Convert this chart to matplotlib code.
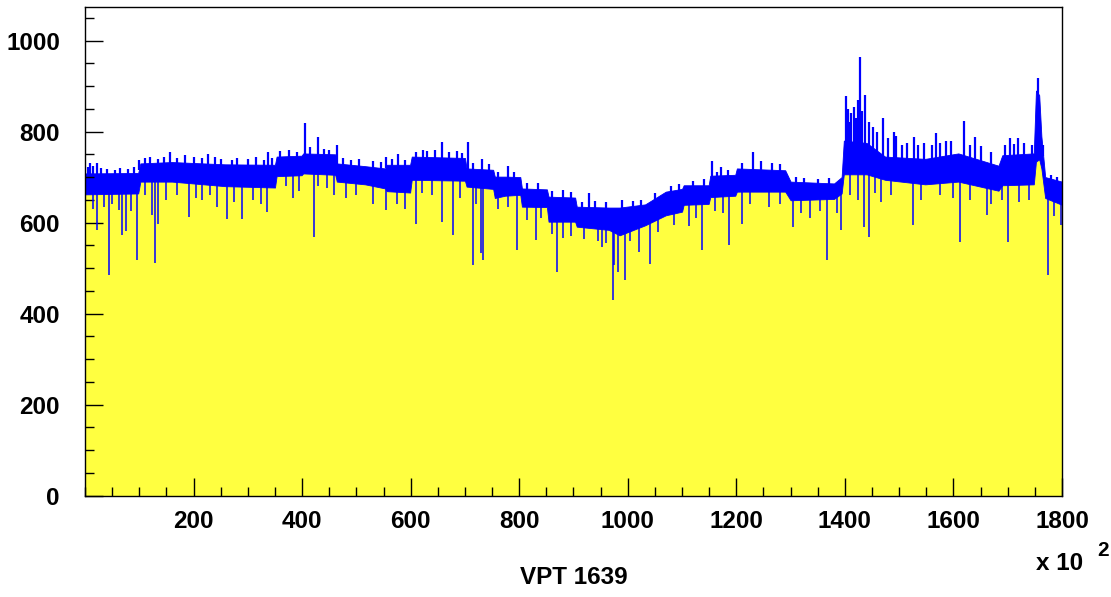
# coding: utf-8
import numpy as np
import matplotlib
matplotlib.use("Agg")
import matplotlib.pyplot as plt
from matplotlib.ticker import MultipleLocator

plt.rcParams['font.family'] = ['Liberation Sans', 'DejaVu Sans']

# Band of the histogram (x in units of 10^2): upper and lower edge of the dense part
band_x = [0, 98, 102, 160, 258, 350, 353, 399, 402, 461, 464, 516, 553, 556, 599,
          602, 700, 703, 752, 755, 774, 802, 805, 851, 854, 903, 906, 965, 985,
          1032, 1070, 1100, 1103, 1149, 1152, 1198, 1201, 1290, 1300, 1380, 1394,
          1398, 1440, 1474, 1548, 1609, 1683, 1690, 1748, 1752, 1758, 1762, 1769, 1800]
band_top = [708, 709, 730, 733, 728, 727, 745, 747, 752, 750, 730, 724, 719, 727, 727,
            745, 742, 719, 716, 701, 701, 700, 675, 673, 657, 655, 635, 633, 633,
            640, 668, 674, 682, 682, 703, 705, 719, 715, 690, 686, 700,
            780, 775, 745, 740, 752, 725, 748, 752, 890, 880, 790, 700, 690]
band_bot = [662, 664, 690, 690, 680, 677, 702, 704, 708, 705, 690, 684, 675, 669, 666,
            694, 692, 679, 674, 654, 659, 661, 635, 634, 602, 602, 591, 584, 572,
            594, 616, 624, 639, 641, 656, 659, 668, 668, 649, 652, 664,
            706, 706, 694, 684, 690, 670, 682, 684, 734, 739, 719, 654, 639]

# Downward spikes (position, minimum value)
down_x = [23, 44, 63, 69, 76, 95, 123, 129, 135, 192, 215, 244, 261, 290, 335, 384,
          421, 459, 554, 609, 658, 678, 714, 730, 734, 795, 830, 869, 881, 952, 972,
          974, 982, 994, 1020, 1041, 1112, 1136, 1186, 1211, 1304, 1336, 1367, 1393,
          1435, 1445, 1466, 1525, 1612, 1661, 1701, 1775, 1798,
          15, 35, 50, 85, 110, 150, 170, 205, 230, 275, 310, 325, 370, 395, 430, 445,
          480, 500, 530, 575, 590, 620, 640, 690, 720, 760, 780, 815, 840, 860, 895,
          920, 945, 960, 1005, 1055, 1085, 1125, 1160, 1175, 1225, 1260, 1280, 1320,
          1355, 1385, 1410, 1425, 1455, 1485, 1540, 1575, 1600, 1630, 1670, 1690,
          1720, 1740, 1785]
down_y = [583, 485, 628, 573, 582, 518, 616, 511, 597, 612, 649, 635, 608, 608, 624, 654,
          569, 660, 628, 597, 602, 573, 507, 533, 517, 540, 562, 492, 566, 547, 430,
          507, 492, 474, 536, 510, 592, 540, 551, 596, 591, 610, 518, 584,
          591, 569, 646, 595, 558, 617, 558, 485, 595,
          630, 635, 640, 625, 660, 650, 660, 655, 660, 645, 650, 640, 680, 670, 680, 675,
          655, 660, 640, 640, 630, 665, 660, 655, 640, 630, 635, 605, 610, 575, 570,
          565, 560, 555, 560, 580, 595, 610, 625, 620, 640, 635, 640, 620,
          625, 620, 660, 650, 665, 660, 650, 660, 655, 650, 640, 650,
          645, 650, 615]

# Upward spikes (position, maximum value)
up_x = [10, 23, 100, 157, 227, 338, 405, 429, 465, 555, 577, 623, 658, 706, 732, 780,
        928, 1156, 1172, 1230, 1402, 1409, 1417, 1428, 1437, 1451, 1470, 1490, 1505,
        1528, 1567, 1587, 1619, 1640, 1705, 1719, 1755,
        5, 15, 30, 40, 55, 65, 80, 90, 110, 120, 135, 145, 170, 185, 200, 215, 240, 250,
        270, 280, 300, 315, 330, 345, 360, 375, 390, 415, 440, 450, 475, 490, 505, 530,
        545, 565, 590, 610, 630, 645, 670, 685, 695, 715, 745, 760, 790, 815, 835, 860,
        880, 895, 915, 940, 960, 990, 1010, 1025, 1050, 1080, 1095, 1120, 1140, 1165,
        1185, 1210, 1245, 1265, 1280, 1310, 1325, 1350, 1370, 1405, 1412, 1420, 1424,
        1432, 1444, 1460, 1480, 1495, 1515, 1535, 1545, 1560, 1575, 1595, 1630, 1650,
        1670, 1695, 1712, 1730, 1745, 1765, 1780, 1790]
up_y = [731, 730, 738, 756, 750, 756, 818, 789, 770, 745, 751, 759, 776, 777, 740, 724,
        664, 735, 722, 756, 877, 822, 855, 964, 880, 811, 829, 800, 770,
        789, 796, 780, 824, 788, 785, 785, 917,
        722, 725, 720, 718, 716, 720, 718, 722, 742, 745, 740, 745, 742, 748, 745, 742,
        744, 740, 738, 742, 740, 745, 738, 742, 758, 760, 755, 765, 762, 760, 742, 738,
        740, 735, 733, 740, 738, 755, 758, 760, 755, 758, 752, 730, 728, 712, 712, 688,
        686, 670, 672, 668, 645, 648, 646, 650, 648, 650, 665, 680, 685, 692, 695, 712,
        715, 730, 735, 730, 728, 700, 698, 695, 698, 850, 840, 830, 870,
        845, 820, 800, 785, 790, 775, 770, 775, 770, 775, 780, 770, 768,
        755, 770, 772, 775, 770, 770, 705, 700]

fig = plt.figure(figsize=(11.11, 5.97), dpi=100, facecolor='white')
ax = fig.add_axes([0.0765, 0.1697, 0.8794, 0.8181])

yellow = '#ffff40'
blue = '#0000ff'
ax.fill_between(band_x, 0, band_top, color=yellow, lw=0, zorder=1)
ax.fill_between(band_x, band_bot, band_top, color=blue, lw=0.6, edgecolor=blue, zorder=2)

down_top = np.interp(down_x, band_x, band_bot) + 5
ax.vlines(down_x, down_y, down_top, color=blue, lw=1.1, zorder=3)
up_base = np.interp(up_x, band_x, band_top) - 5
ax.vlines(up_x, up_base, up_y, color=blue, lw=1.6, zorder=3)

ax.set_xlim(0, 1800)
ax.set_ylim(0, 1073)
ax.set_axisbelow(False)

ax.xaxis.set_major_locator(MultipleLocator(200))
ax.xaxis.set_minor_locator(MultipleLocator(50))
ax.yaxis.set_major_locator(MultipleLocator(200))
ax.yaxis.set_minor_locator(MultipleLocator(50))
ax.tick_params(which='both', direction='in', top=False, right=False, width=1, color='black')
ax.tick_params(which='major', length=13)
ax.tick_params(which='minor', length=6.5)
ax.tick_params(axis='y', which='major', pad=18)
ax.tick_params(axis='x', which='major', pad=10)
ax.set_xticks([200, 400, 600, 800, 1000, 1200, 1400, 1600, 1800])
for lab in ax.get_xticklabels() + ax.get_yticklabels():
    lab.set_fontsize(17.5)
    lab.set_fontweight('bold')

for s in ax.spines.values():
    s.set_linewidth(1)
    s.set_color('black')
    s.set_zorder(5)

fig.text(1060 / 1111, 1 - 563 / 597, "x 10", fontsize=17.5, fontweight='bold',
         ha='center', va='center')
fig.text(1103 / 1111, 1 - 550 / 597, "2", fontsize=15, fontweight='bold',
         ha='center', va='center')
fig.text(574 / 1111, 1 - 578 / 597, "VPT 1639", fontsize=17.5, fontweight='bold',
         ha='center', va='center')

plt.savefig('out.png', dpi=100, facecolor='white')
